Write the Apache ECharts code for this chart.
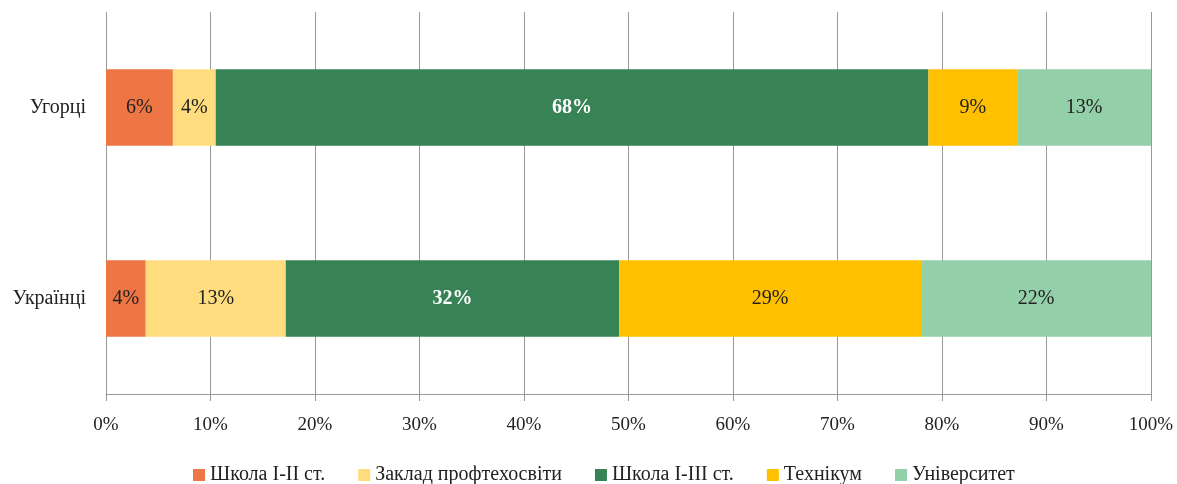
<!DOCTYPE html>
<html><head><meta charset="utf-8">
<script src="https://cdn.jsdelivr.net/npm/echarts@6/dist/echarts.min.js"></script>
<style>html,body{margin:0;padding:0;background:#fff}#c{width:1177px;height:484px}</style>
</head><body><div id="c"></div>
<script>
const categories = ['Українці', 'Угорці'];
const seriesNames = ['Школа I-II ст.', 'Заклад профтехосвіти', 'Школа I-III ст.', 'Технікум', 'Університет'];
const schoolI_II = [3.8, 6.4];
const vocational = [13.4, 4.1];
const schoolI_III = [31.9, 68.2];
const technikum = [28.9, 8.5];
const university = [22.0, 12.8];
const xTicks = [0, 10, 20, 30, 40, 50, 60, 70, 80, 90, 100];

const colors = ['#EE7544', '#FFDD7F', '#378356', '#FFC000', '#93D0AA'];
const labelColors = ['#222', '#222', '#fff', '#222', '#222'];
const labelBold = [false, false, true, false, false];
const values = [schoolI_II, vocational, schoolI_III, technikum, university];
const font = 'Liberation Serif, serif';

const chart = echarts.init(document.getElementById('c'));
chart.setOption({
  animation: false,
  color: colors,
  grid: { left: 106, right: 26, top: 12, bottom: 90 },
  legend: {
    top: 462, left: 188, padding: [2, 5, 2, 5], itemWidth: 12, itemHeight: 12, itemGap: 33,
    icon: 'rect',
    textStyle: { fontFamily: font, fontSize: 20, lineHeight: 22, color: '#222' },
    data: seriesNames
  },
  xAxis: {
    type: 'value', min: 0, max: 100, interval: 10,
    axisLine: { show: true, lineStyle: { color: '#999' } },
    axisTick: { show: true, length: 7, lineStyle: { color: '#999' } },
    splitLine: { show: true, lineStyle: { color: '#999' } },
    axisLabel: { fontFamily: font, fontSize: 19, color: '#222', margin: 22,
      formatter: v => xTicks.includes(v) ? v + '%' : '' }
  },
  yAxis: {
    type: 'category', data: categories,
    axisLine: { show: false }, axisTick: { show: false },
    axisLabel: { fontFamily: font, fontSize: 20, color: '#222', margin: 20 }
  },
  series: seriesNames.map((n, i) => ({
    name: n, type: 'bar', stack: 'total', barWidth: '40%',
    data: values[i],
    itemStyle: { borderColor: '#fff', borderWidth: 0 },
    label: {
      show: true, position: 'inside',
      fontFamily: font, fontSize: 20, color: labelColors[i],
      fontWeight: labelBold[i] ? 'bold' : 'normal',
      formatter: p => Math.round(p.value) + '%'
    }
  }))
});
</script></body></html>
